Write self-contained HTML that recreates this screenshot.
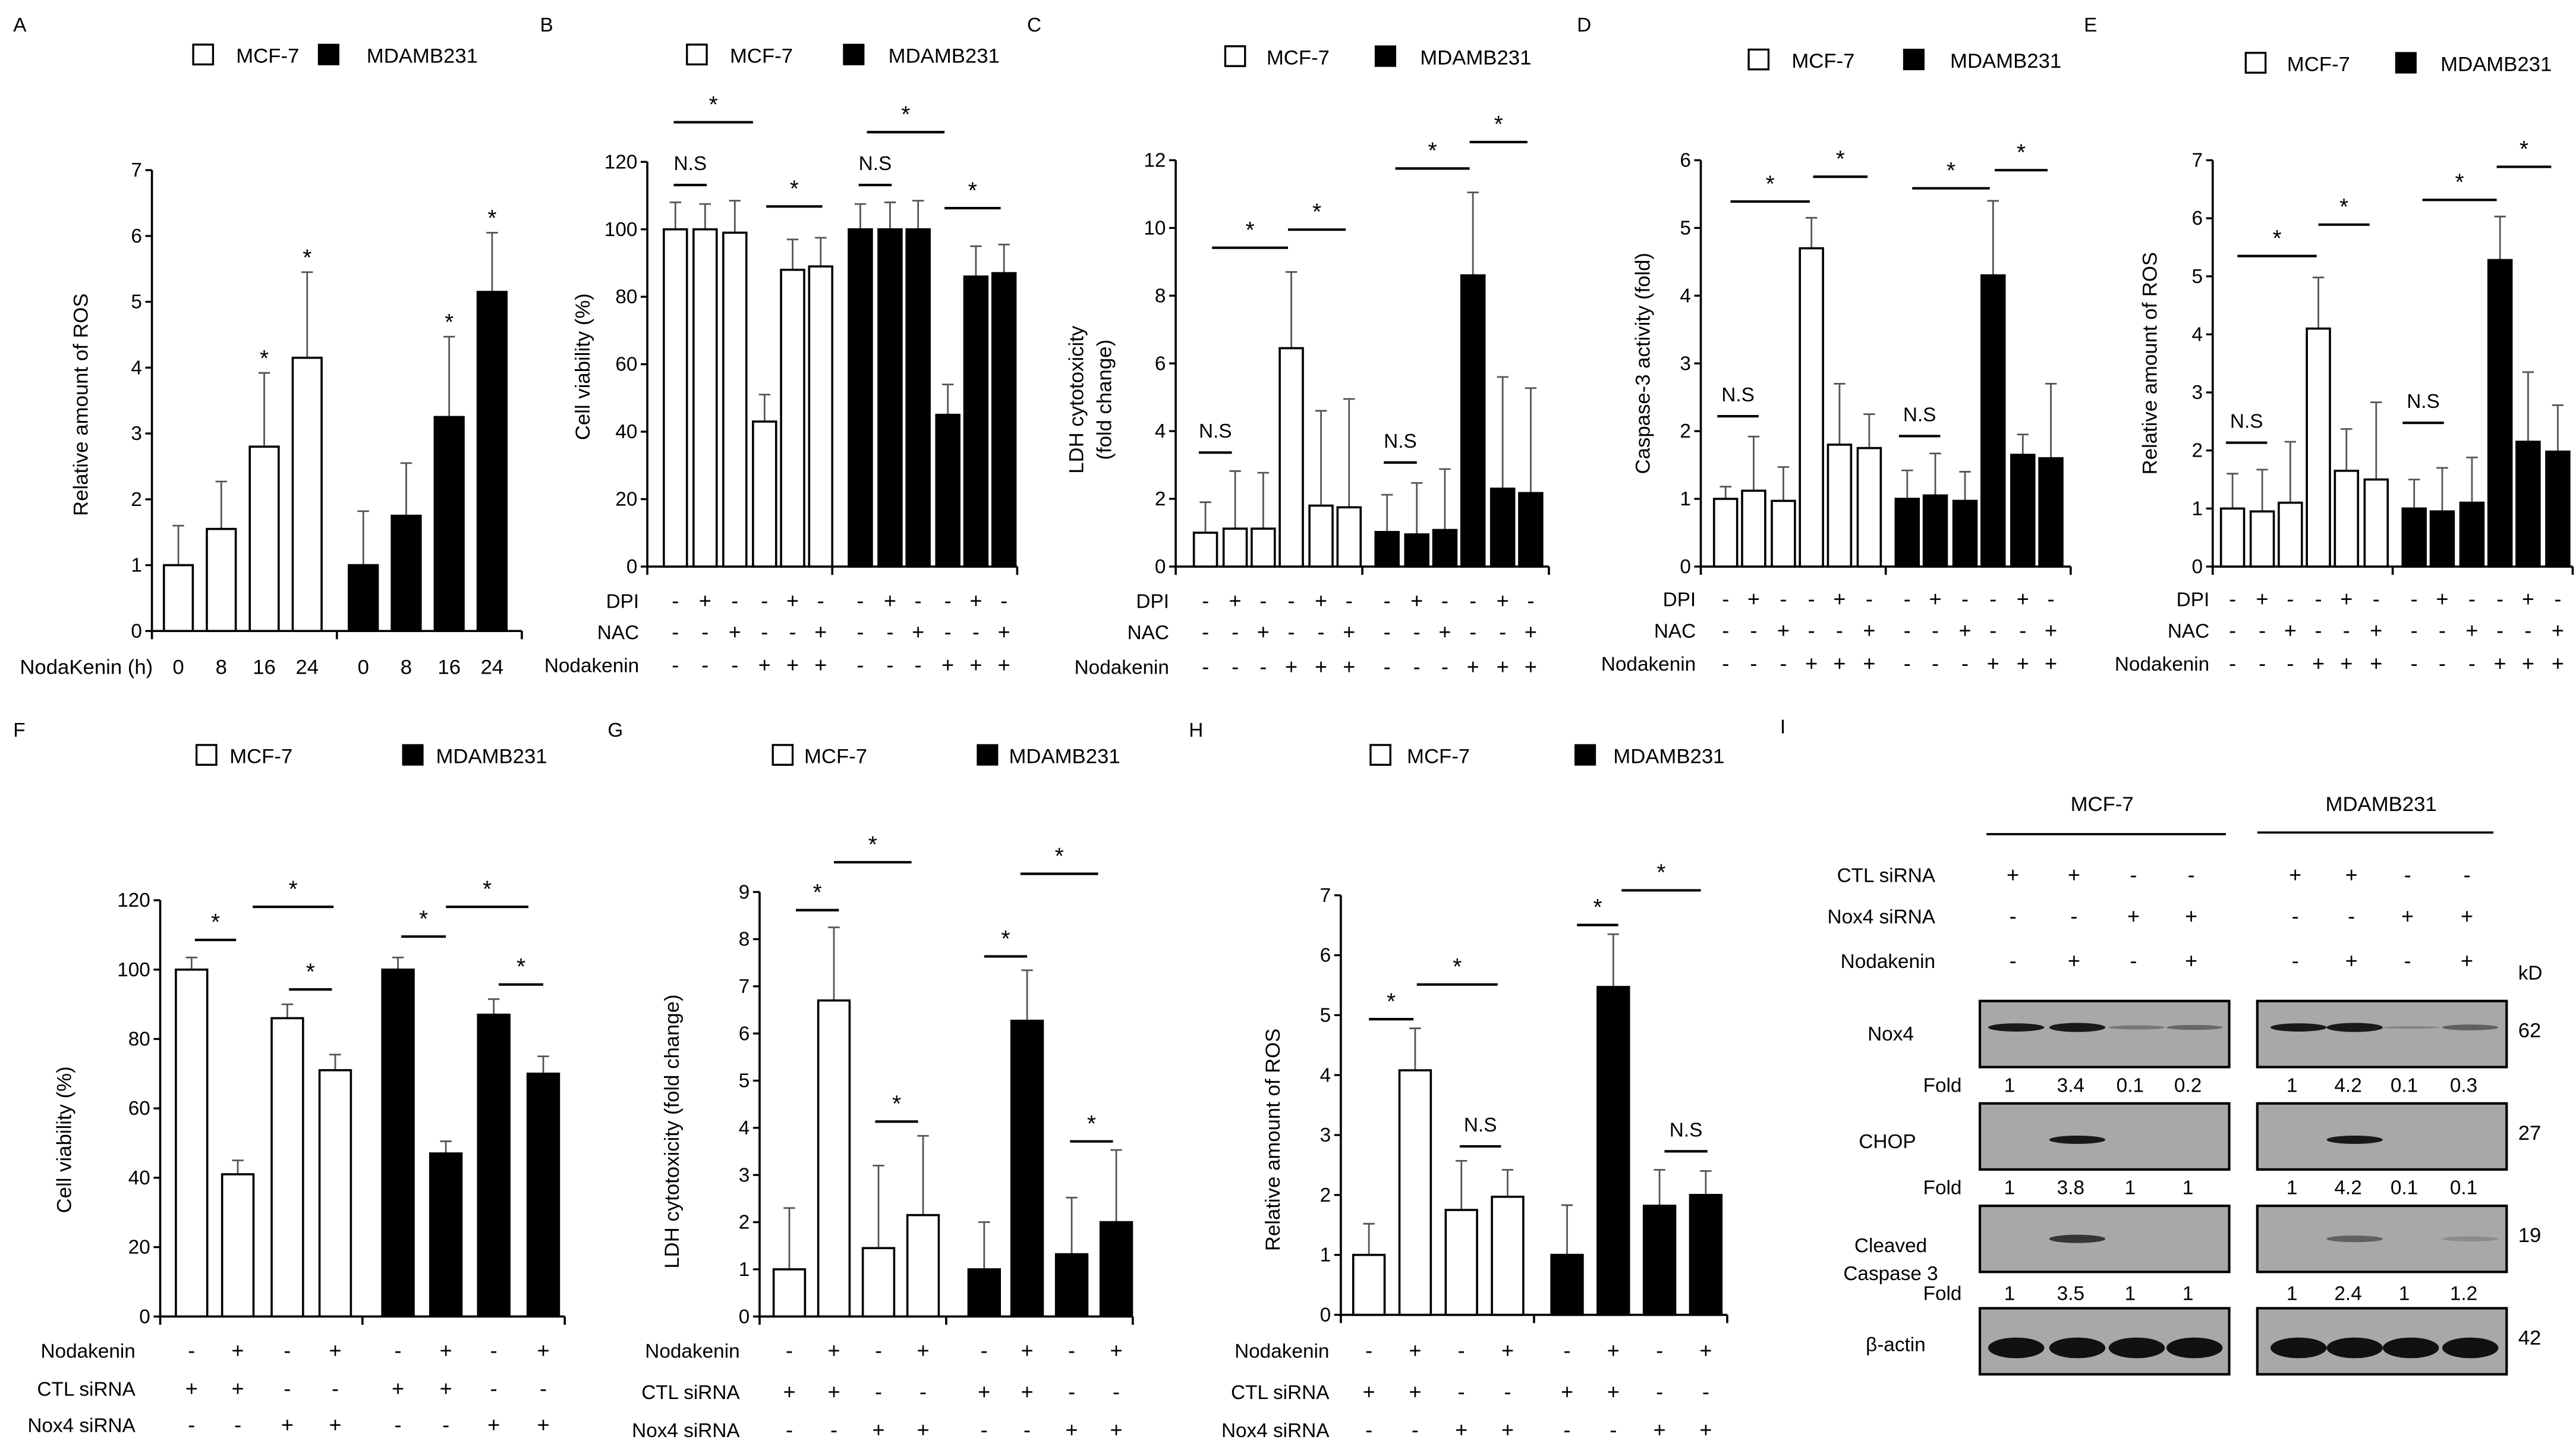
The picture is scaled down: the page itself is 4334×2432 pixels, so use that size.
<!DOCTYPE html>
<html><head><meta charset="utf-8"><style>
html,body{margin:0;padding:0;background:#fff;}
svg{display:block;}
text{font-family:"Liberation Sans Narrow","Liberation Sans",sans-serif;fill:#000;}
</style></head><body>
<svg id="fig" xmlns="http://www.w3.org/2000/svg" width="4334" height="2432" viewBox="0 0 1560 875.4">
<rect width="1560" height="876" fill="#fff"/>
</svg>
<script>
// ---------- DATA ----------
const aLabels = ['0','8','16','24','0','8','16','24'];
const aValues = [1,1.55,2.8,4.15,1,1.75,3.25,5.15];
const aErrors = [0.6,0.72,1.12,1.3,0.82,0.8,1.22,0.9];
const aStars = ['','','*','*','','','*','*'];

const bValues = [100,100,99,43,88,89,100,100,100,45,86,87];
const bErrors = [8,7.5,9.5,8,9,8.5,7.5,8,8.5,9,9,8.5];

const cValues = [1,1.12,1.12,6.45,1.8,1.75,1.02,0.95,1.08,8.6,2.3,2.17];
const cErrors = [0.9,1.7,1.65,2.25,2.8,3.2,1.1,1.52,1.8,2.45,3.3,3.1];

const dValues = [1,1.12,0.97,4.7,1.8,1.75,1,1.05,0.97,4.3,1.65,1.6];
const dErrors = [0.18,0.8,0.5,0.45,0.9,0.5,0.42,0.62,0.43,1.1,0.3,1.1];

const eValues = [1,0.95,1.1,4.1,1.65,1.5,1,0.95,1.1,5.28,2.15,1.98];
const eErrors = [0.6,0.72,1.05,0.88,0.72,1.33,0.5,0.75,0.78,0.75,1.2,0.8];

const fValues = [100,41,86,71,100,47,87,70];
const fErrors = [3.5,4,4,4.5,3.5,3.5,4.5,5];

const gValues = [1,6.7,1.45,2.15,1,6.27,1.32,2.0];
const gErrors = [1.3,1.55,1.75,1.68,1.0,1.07,1.2,1.53];

const hValues = [1,4.08,1.75,1.97,1,5.47,1.82,2.0];
const hErrors = [0.52,0.7,0.82,0.45,0.83,0.88,0.6,0.4];

const dpiRow = ['-','+','-','-','+','-','-','+','-','-','+','-'];
const nacRow = ['-','-','+','-','-','+','-','-','+','-','-','+'];
const nodaRow6 = ['-','-','-','+','+','+','-','-','-','+','+','+'];
const nodaRow4 = ['-','+','-','+','-','+','-','+'];
const ctlRow = ['+','+','-','-','+','+','-','-'];
const noxRow = ['-','-','+','+','-','-','+','+'];

const foldNox4 = ['1','3.4','0.1','0.2','1','4.2','0.1','0.3'];
const foldChop = ['1','3.8','1','1','1','4.2','0.1','0.1'];
const foldCasp = ['1','3.5','1','1','1','2.4','1','1.2'];

// ---------- HELPERS ----------
const NS='http://www.w3.org/2000/svg';
const svg=document.getElementById('fig');
function mk(tag,attrs,parent){const e=document.createElementNS(NS,tag);for(const k in attrs)e.setAttribute(k,attrs[k]);(parent||svg).appendChild(e);return e;}
function txt(s,x,y,size,anchor,parent,extra){const t=mk('text',Object.assign({x:x,y:y,'font-size':size,'text-anchor':anchor||'start'},extra||{}),parent);t.textContent=s;return t;}

function panel(cfg){
  const g=mk('g',{});
  
  
  const yS=v=>cfg.y0-(v/cfg.max)*(cfg.y0-cfg.yTop);
  const ax=mk('line',{x1:cfg.x0,y1:cfg.yTop,x2:cfg.x0,y2:cfg.y0,stroke:'#000','stroke-width':1.3},g);
  
  
  for(let v=0;v<=cfg.max+1e-9;v+=cfg.step){
    const y=yS(v);
    mk('line',{x1:cfg.x0-4,y1:y,x2:cfg.x0,y2:y,stroke:'#000','stroke-width':1.2},g);
    const t=txt(String(Math.round(v*100)/100),cfg.x0-6,y+4,12,'end',g);
    
    
  }
  const xa=mk('line',{x1:cfg.x0,y1:cfg.y0,x2:cfg.xEnd,y2:cfg.y0,stroke:'#000','stroke-width':1.3},g);
  
  
  [cfg.x0,(cfg.x0+cfg.xEnd)/2,cfg.xEnd].forEach(x=>mk('line',{x1:x,y1:cfg.y0,x2:x,y2:cfg.y0+5,stroke:'#000','stroke-width':1.3},g));
  const n=cfg.values.length;
  for(let i=0;i<n;i++){
    const cx=cfg.centers[i];
    const v=cfg.values[i], e=cfg.errors[i];
    const black=i>=n/2;
    const yt=yS(v), ye=yS(v+e);
    const el=mk('line',{x1:cx,y1:yt,x2:cx,y2:ye,stroke:'#555','stroke-width':1},g);
    
    
    mk('line',{x1:cx-3.5,y1:ye,x2:cx+3.5,y2:ye,stroke:'#555','stroke-width':1},g);
    const r=mk('rect',{x:cx-cfg.bw/2,y:yt,width:cfg.bw,height:cfg.y0-yt,fill:black?'#000':'#fff',stroke:'#000','stroke-width':1.3},g);
    
    
    if(cfg.stars && cfg.stars[i]){
      const st=txt(cfg.stars[i],cx,ye-4,14,'middle',g);
      
      
    }
  }
  cfg.ytitle.forEach((s,k)=>{
    const t=txt(s,0,0,12.5,'middle',g,{transform:`translate(${cfg.ytx+k*17},${cfg.yty}) rotate(-90)`});
    
    
  });
  cfg.sig.forEach(s=>{
    mk('line',{x1:s[0],y1:s[2],x2:s[1],y2:s[2],stroke:'#000','stroke-width':1.5},g);
    const t=txt(s[3],(s[0]+s[1])/2,s[3]==='*'?s[2]-6:s[2]-9,s[3]==='*'?14:12,'middle',g);
    
    
  });
  cfg.rows.forEach(r=>{
    const t=txt(r.label,cfg.rowLabelX,r.y,12,'end',g);
    
    
    r.vals.forEach((s,i)=>{
      const u=txt(s,cfg.centers[i],r.y,13,'middle',g);
      
      
    });
  });
  const L=cfg.legend;
  const lg=mk('g',{},g);
  
  
  mk('rect',{x:L[0],y:L[2]-6,width:12,height:12,fill:'#fff',stroke:'#000','stroke-width':1.2},lg);
  txt('MCF-7',L[1],L[2]+5,12.5,'start',lg);
  mk('rect',{x:L[3],y:L[2]-6,width:12,height:12,fill:'#000',stroke:'#000'},lg);
  txt('MDAMB231',L[4],L[2]+5,12.5,'start',lg);
  const lt=txt(cfg.letter,cfg.letterXY[0],cfg.letterXY[1],12,'start',g);
  
  
}

// ---------- PANELS ----------
panel({name:'panel-a-ros-time',letter:'A',letterXY:[8,19],x0:92,xEnd:316,yTop:103,y0:382,max:7,step:1,bw:17.5,
  centers:[108,134,160,186,220,246,272,298],values:aValues,errors:aErrors,stars:aStars,
  ytitle:['Relative amount of ROS'],ytx:53,yty:245,sig:[],rows:[],rowLabelX:0,
  legend:[117,143,33,193,222]});
(function(){const g=mk('g',{});
 txt('NodaKenin (h)',12,408,12.5,'start',g);
 [108,134,160,186,220,246,272,298].forEach((x,i)=>txt(aLabels[i],x,408,12.5,'middle',g));})();

function rows6(ys){return [{label:'DPI',y:ys[0],vals:dpiRow},{label:'NAC',y:ys[1],vals:nacRow},{label:'Nodakenin',y:ys[2],vals:nodaRow6}];}
panel({name:'panel-b-cell-viability',letter:'B',letterXY:[327,19],x0:392,xEnd:616,yTop:98,y0:343,max:120,step:20,bw:14,
  centers:[409,427,445,463,480,497,521,539,556,574,591,608],values:bValues,errors:bErrors,
  ytitle:['Cell viability (%)'],ytx:357,yty:222,
  sig:[[408,428,112,'N.S'],[408,456,74,'*'],[464,498,125,'*'],[520,540,112,'N.S'],[525,572,80,'*'],[572,606,126,'*']],
  rows:rows6([368,387,407]),rowLabelX:387,legend:[416,442,33,511,538]});
panel({name:'panel-c-ldh',letter:'C',letterXY:[622,19],x0:712,xEnd:938,yTop:97,y0:343,max:12,step:2,bw:14,
  centers:[730,748,765,782,800,817,840,858,875,892,910,927],values:cValues,errors:cErrors,
  ytitle:['LDH  cytotoxicity','(fold change)'],ytx:656,yty:242,
  sig:[[726,746,274,'N.S'],[734,780,150,'*'],[780,815,139,'*'],[838,858,280,'N.S'],[845,890,102,'*'],[890,925,86,'*']],
  rows:rows6([368,387,408]),rowLabelX:708,legend:[742,767,34,833,860]});
panel({name:'panel-d-caspase3',letter:'D',letterXY:[955,19],x0:1030,xEnd:1254,yTop:97,y0:343,max:6,step:1,bw:14,
  centers:[1045,1062,1080,1097,1114,1132,1155,1172,1190,1207,1225,1242],values:dValues,errors:dErrors,
  ytitle:['Caspase-3 activity (fold)'],ytx:999,yty:220,
  sig:[[1040,1065,252,'N.S'],[1048,1096,122,'*'],[1098,1131,107,'*'],[1150,1175,264,'N.S'],[1158,1205,114,'*'],[1208,1240,103,'*']],
  rows:rows6([367,386,406]),rowLabelX:1027,legend:[1059,1085,36,1153,1181]});
panel({name:'panel-e-ros-inhibitors',letter:'E',letterXY:[1262,19],x0:1340,xEnd:1558,yTop:97,y0:343,max:7,step:1,bw:14,
  centers:[1352,1370,1387,1404,1421,1439,1462,1479,1497,1514,1531,1549],values:eValues,errors:eErrors,
  ytitle:['Relative amount of ROS'],ytx:1306,yty:220,
  sig:[[1348,1373,268,'N.S'],[1355,1403,155,'*'],[1404,1435,136,'*'],[1455,1480,256,'N.S'],[1467,1512,121,'*'],[1512,1545,101,'*']],
  rows:rows6([367,386,406]),rowLabelX:1338,legend:[1360,1385,38,1451,1478]});

function rows4(ys){return [{label:'Nodakenin',y:ys[0],vals:nodaRow4},{label:'CTL siRNA',y:ys[1],vals:ctlRow},{label:'Nox4 siRNA',y:ys[2],vals:noxRow}];}
panel({name:'panel-f-viability-sirna',letter:'F',letterXY:[8,446],x0:97,xEnd:342,yTop:545,y0:797,max:120,step:20,bw:19,
  centers:[116,144,174,203,241,270,299,329],values:fValues,errors:fErrors,
  ytitle:['Cell viability (%)'],ytx:43,yty:690,
  sig:[[118,143,569,'*'],[153,202,549,'*'],[175,201,599,'*'],[243,270,567,'*'],[270,320,549,'*'],[302,329,596,'*']],
  rows:rows4([822,845,867]),rowLabelX:82,legend:[119,139,457,244,264]});
panel({name:'panel-g-ldh-sirna',letter:'G',letterXY:[368,446],x0:460,xEnd:686,yTop:540,y0:797,max:9,step:1,bw:19,
  centers:[478,505,532,559,596,622,649,676],values:gValues,errors:gErrors,
  ytitle:['LDH  cytotoxicity (fold change)'],ytx:411,yty:685,
  sig:[[482,508,551,'*'],[505,552,522,'*'],[530,556,679,'*'],[596,622,579,'*'],[618,665,529,'*'],[648,674,691,'*']],
  rows:rows4([822,847,870]),rowLabelX:448,legend:[468,487,457,592,611]});
panel({name:'panel-h-ros-sirna',letter:'H',letterXY:[720,446],x0:812,xEnd:1046,yTop:542,y0:796,max:7,step:1,bw:19,
  centers:[829,857,885,913,949,977,1005,1033],values:hValues,errors:hErrors,
  ytitle:['Relative amount of ROS'],ytx:775,yty:690,
  sig:[[829,856,617,'*'],[858,907,596,'*'],[884,909,694,'N.S'],[955,980,560,'*'],[982,1030,539,'*'],[1008,1034,697,'N.S']],
  rows:rows4([822,847,870]),rowLabelX:805,legend:[830,852,457,954,977]});

// ---------- PANEL I: WESTERN BLOT ----------
(function(){
  const g=mk('g',{});
  
  
  txt('I',1078,444,12,'start',g);
  txt('MCF-7',1273,491,12.5,'middle',g);
  txt('MDAMB231',1442,491,12.5,'middle',g);
  mk('line',{x1:1203,y1:505,x2:1348,y2:505,stroke:'#000','stroke-width':1.3},g);
  mk('line',{x1:1367,y1:504,x2:1510,y2:504,stroke:'#000','stroke-width':1.3},g);
  const cols=[1219,1256,1292,1327,1390,1424,1458,1494];
  [['CTL siRNA',534,ctlRow],['Nox4 siRNA',559,noxRow],['Nodakenin',586,nodaRow4]].forEach(r=>{
    txt(r[0],1172,r[1],12,'end',g);
    r[2].forEach((s,i)=>txt(s,cols[i],r[1],13,'middle',g));
  });
  txt('kD',1525,593,12,'start',g);
  const blots=[['Nox4',606,'62',[[1,1],[1,1.1],[0.35,0.5],[0.45,0.6]],[[1,1],[1,1.1],[0.3,0.25],[0.5,0.7]],0.35],
               ['CHOP',668,'27',[[0,0],[1,1],[0,0],[0,0]],[[0,0],[1,1],[0,0],[0,0]],0.5],
               ['Cleaved',730,'19',[[0,0],[0.8,1],[0,0],[0,0]],[[0,0],[0.5,0.8],[0,0],[0.2,0.6]],0.45],
               ['β-actin',792,'42',[[1.3,1.3],[1.3,1.3],[1.3,1.3],[1.3,1.3]],[[1.3,1.3],[1.3,1.3],[1.3,1.3],[1.3,1.3]],0.55]];
  const folds=[foldNox4,foldChop,foldCasp];
  blots.forEach((b,k)=>{
    [[1199,b[3],0],[1367,b[4],4]].forEach(([x,bands,off])=>{
      const r=mk('rect',{x:x,y:b[1],width:151,height:40,fill:'#a8a8a8',stroke:'#000','stroke-width':1.5},g);
      
      
      bands.forEach((bd,i)=>{
        if(bd[0]>0){
          mk('ellipse',{cx:cols[i+off]+2,cy:b[1]+40*b[5]+2,rx:17,ry:2.5*bd[1]+(k===3?3:0),fill:'#111','fill-opacity':Math.min(1,bd[0]*0.95)},g);
        }
      });
    });
    txt(b[2],1525,b[1]+22,12.5,'start',g);
  });
  txt('Nox4',1145,630,12,'middle',g);
  txt('CHOP',1143,695,12,'middle',g);
  txt('Cleaved',1145,758,12,'middle',g);
  txt('Caspase 3',1145,775,12,'middle',g);
  txt('β-actin',1148,818,12,'middle',g);
  [661,723,787].forEach((y,k)=>{
    txt('Fold',1188,y,12,'end',g);
    folds[k].forEach((s,i)=>txt(s,cols[i]-2,y,12,'middle',g));
  });
})();
</script>
</body></html>
